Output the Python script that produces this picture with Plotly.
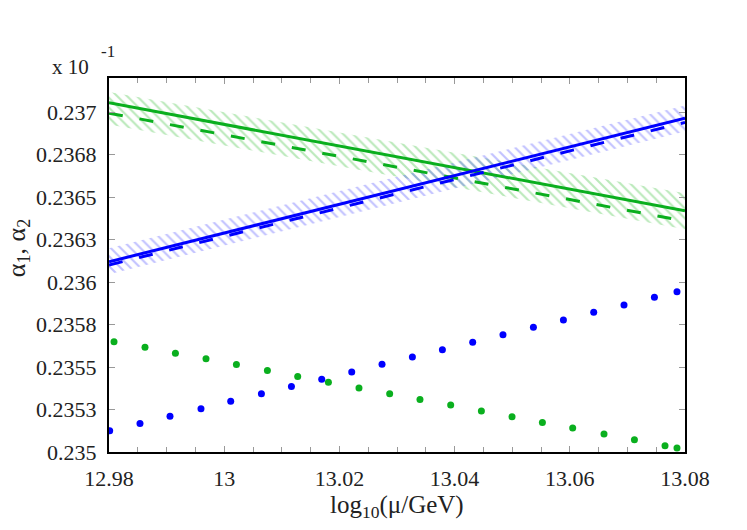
import plotly.graph_objects as go

# x nodes for the curves (log10(mu/GeV))
x_nodes = [12.98, 13.00, 13.02, 13.04, 13.06, 13.08]

# alpha_1 (green) and alpha_2 (blue), in units of 10^-1
alpha1_solid = [0.237054, 0.236927, 0.236800, 0.236673, 0.236546, 0.236419]
alpha1_dashed = [0.236993, 0.236866, 0.236739, 0.236612, 0.236485, 0.236358]
alpha1_band_hi = [0.237118, 0.236998, 0.236879, 0.236760, 0.236641, 0.236522]
alpha1_band_lo = [0.236927, 0.236804, 0.236680, 0.236557, 0.236434, 0.236311]

alpha2_solid = [0.236119, 0.236288, 0.236457, 0.236626, 0.236795, 0.236964]
alpha2_dashed = [0.236100, 0.236268, 0.236436, 0.236603, 0.236771, 0.236939]
alpha2_band_hi = [0.236199, 0.236367, 0.236535, 0.236703, 0.236870, 0.237038]
alpha2_band_lo = [0.236046, 0.236214, 0.236382, 0.236550, 0.236718, 0.236886]

# dotted series
green_dot_x = [12.98087, 12.98625, 12.99153, 12.99684, 13.00212, 13.00750, 13.01276,
               13.01809, 13.02340, 13.02873, 13.03399, 13.03932, 13.04465, 13.04997,
               13.05524, 13.06050, 13.06594, 13.07122, 13.07653, 13.07861]
green_dot_y = [0.235649, 0.235616, 0.235581, 0.235548, 0.235514, 0.235479, 0.235444,
               0.235411, 0.235376, 0.235342, 0.235309, 0.235276, 0.235241, 0.235207,
               0.235174, 0.235141, 0.235106, 0.235072, 0.235037, 0.235023]
blue_dot_x = [12.98012, 12.98538, 12.99059, 12.99597, 13.00113, 13.00646, 13.01167,
              13.01693, 13.02214, 13.02740, 13.03267, 13.03788, 13.04314, 13.04840,
              13.05368, 13.05889, 13.06415, 13.06941, 13.07469, 13.07861]
blue_dot_y = [0.235125, 0.235168, 0.235211, 0.235254, 0.235299, 0.235342, 0.235385,
              0.235428, 0.235471, 0.235516, 0.235559, 0.235602, 0.235646, 0.235690,
              0.235734, 0.235776, 0.235822, 0.235865, 0.235910, 0.235943]

y_tickvals = [0.235, 0.23525, 0.2355, 0.23575, 0.236, 0.23625, 0.2365, 0.23675, 0.237]
y_ticktext = ["0.235", "0.2353", "0.2355", "0.2358", "0.236", "0.2363", "0.2365", "0.2368", "0.237"]
x_tickvals = [12.98, 13.00, 13.02, 13.04, 13.06, 13.08]
x_ticktext = ["12.98", "13", "13.02", "13.04", "13.06", "13.08"]

GREEN = "rgb(10,175,30)"
BLUE = "rgb(0,0,255)"
SERIF = "Liberation Serif"
TXT = "#222222"

fig = go.Figure()


def add_band(lo, hi, color):
    fig.add_trace(go.Scatter(x=x_nodes, y=lo, mode="lines", line=dict(width=0),
                             showlegend=False, hoverinfo="skip"))
    fig.add_trace(go.Scatter(x=x_nodes, y=hi, mode="lines", line=dict(width=0),
                             fill="tonexty", fillcolor="rgba(0,0,0,0)",
                             fillpattern=dict(shape="\\", fgcolor=color, size=7,
                                              solidity=0.3, bgcolor="rgba(0,0,0,0)"),
                             showlegend=False, hoverinfo="skip"))


add_band(alpha1_band_lo, alpha1_band_hi, "rgba(70,195,70,0.75)")
add_band(alpha2_band_lo, alpha2_band_hi, "rgba(90,90,255,0.75)")

for ys, color, dash in [(alpha1_dashed, GREEN, "14px,17px"), (alpha1_solid, GREEN, "solid"),
                        (alpha2_dashed, BLUE, "14px,17px"), (alpha2_solid, BLUE, "solid")]:
    fig.add_trace(go.Scatter(x=x_nodes, y=ys, mode="lines", showlegend=False,
                             line=dict(color=color, width=3, dash=dash)))

fig.add_trace(go.Scatter(x=green_dot_x, y=green_dot_y, mode="markers", showlegend=False,
                         marker=dict(color=GREEN, size=7)))
fig.add_trace(go.Scatter(x=blue_dot_x, y=blue_dot_y, mode="markers", showlegend=False,
                         marker=dict(color=BLUE, size=7)))

axis_common = dict(
    showgrid=False, zeroline=False, showline=True, linecolor="black", linewidth=2,
    mirror="ticks", ticks="inside", ticklen=6, tickcolor="#999999", tickwidth=1,
    tickfont=dict(family=SERIF, size=22, color=TXT),
)

fig.update_xaxes(range=[12.98, 13.08], tickvals=x_tickvals, ticktext=x_ticktext,
                 ticklabelstandoff=6,
                 minor=dict(dtick=0.005, tick0=12.98, ticks="inside", ticklen=5,
                            tickcolor="#999999"),
                 **axis_common)
fig.update_yaxes(range=[0.235, 0.2372], tickvals=y_tickvals, ticktext=y_ticktext,
                 ticklabelstandoff=6, **axis_common)

fig.add_annotation(text="log<sub>10</sub>(μ/GeV)", xref="paper", yref="paper",
                   x=0.5, y=-0.145, xanchor="center", yanchor="middle", showarrow=False,
                   font=dict(family=SERIF, size=25, color=TXT))
fig.add_annotation(text="α<sub>1</sub>, α<sub>2</sub>", xref="paper", yref="paper",
                   x=-0.158, y=0.545, xanchor="center", yanchor="middle", showarrow=False,
                   textangle=-90, font=dict(family=SERIF, size=26, color=TXT))
fig.add_annotation(text="x 10", xref="paper", yref="paper",
                   x=-0.1024, y=1.029, xanchor="left", yanchor="middle", showarrow=False,
                   font=dict(family=SERIF, size=21, color=TXT))
fig.add_annotation(text="-1", xref="paper", yref="paper",
                   x=-0.0174, y=1.07, xanchor="left", yanchor="middle", showarrow=False,
                   font=dict(family=SERIF, size=17, color=TXT))

# page body has an 8px margin, so the figure is shrunk and offset to match
fig.update_layout(
    width=731, height=514,
    margin=dict(l=101, r=54, t=70, b=70),
    paper_bgcolor="white", plot_bgcolor="white",
)

fig.write_html("out.html")
